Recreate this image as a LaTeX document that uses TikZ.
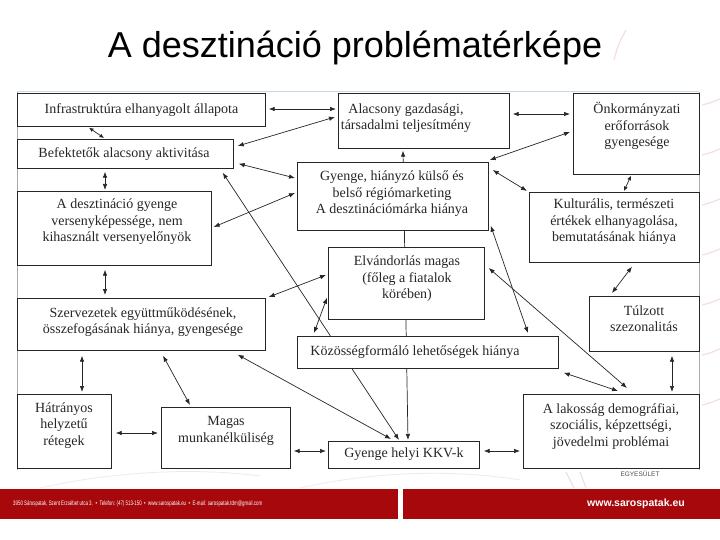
\documentclass[tikz,border=0pt]{standalone}
\usepackage{fontspec}
\setmainfont{Liberation Serif}
\newfontfamily\sansfont{Liberation Sans}
\usetikzlibrary{arrows.meta,backgrounds}
\definecolor{footred}{RGB}{166,8,12}
\definecolor{framegray}{RGB}{170,170,170}
\definecolor{frameblue}{RGB}{200,218,230}
\definecolor{swoosh}{RGB}{236,200,204}
\begin{document}
\begin{tikzpicture}[x=1pt,y=-1pt,
  box/.style={draw=black!85, line width=0.7pt, fill=white, rectangle, inner sep=0pt, anchor=north west},
  txt/.style={align=center, font=\fontsize{14}{16.5}\selectfont, text=black!85, inner sep=0pt},
  con/.style={line width=0.7pt, draw=black!85, {Latex[length=6pt,width=4.5pt]}-{Latex[length=6pt,width=4.5pt]}},
  shortcon/.style={line width=0.7pt, draw=black!85, {Latex[length=4.5pt,width=4pt]}-{Latex[length=4.5pt,width=4pt]}},
  swl/.style={draw=swoosh, line width=1.2pt, opacity=0.6},
]
\useasboundingbox (0,0) rectangle (720,540);
\begin{pgfonlayer}{background}
  \fill[white] (0,0) rectangle (720,540);
\end{pgfonlayer}

% faint background swooshes
\draw[swl] (614,60) .. controls (618,45) .. (626,30);
\foreach \yy in {105,155,205,255,305,355,405} {
  \draw[swl] (702,\yy) .. controls (710,\yy-2) .. (720,\yy-6);
}
\draw[swl] (566,472) -- (574,488);
\draw[swl] (580,472) -- (586,488);
\draw[draw=black!8, line width=0.8pt] (40,488) .. controls (120,470) and (200,468) .. (260,476);
\draw[draw=black!8, line width=0.8pt] (300,488) .. controls (380,470) and (460,470) .. (520,480);

% frame of the embedded diagram
\draw[frameblue, line width=0.8pt] (17,91.5) -- (699,91.5);
\draw[framegray, line width=0.5pt] (17,92) -- (17,470);
\draw[framegray, line width=0.5pt] (699,92) -- (699,470);

% title
\node[font=\sansfont\fontsize{36}{40}\selectfont, anchor=base, inner sep=0pt] (title) at (355,58) {A desztináció problématérképe};

% boxes
\node[box, minimum width=248pt, minimum height=33pt] (infra) at (17,93) {};
\node[box, minimum width=171pt, minimum height=55pt] (alac) at (338,93) {};
\node[box, minimum width=126pt, minimum height=81pt] (onk) at (573,93) {};
\node[box, minimum width=216pt, minimum height=29pt] (befek) at (17,139) {};
\node[box, minimum width=191pt, minimum height=68pt] (mark) at (297,162) {};
\node[box, minimum width=194pt, minimum height=74pt] (deszt) at (17,191) {};
\node[box, minimum width=170pt, minimum height=70pt] (kult) at (529,192) {};
\node[box, minimum width=156pt, minimum height=72pt] (elv) at (328,247) {};
\node[box, minimum width=110pt, minimum height=55pt] (tulz) at (589,296) {};
\node[box, minimum width=248pt, minimum height=52pt] (szerv) at (17,298) {};
\node[box, minimum width=261pt, minimum height=32pt] (kozos) at (297,336) {};
\node[box, minimum width=94pt, minimum height=74pt] (hatr) at (17,394) {};
\node[box, minimum width=129pt, minimum height=61pt] (magas) at (161,407) {};
\node[box, minimum width=151pt, minimum height=27pt] (kkv) at (328,441) {};
\node[box, minimum width=176pt, minimum height=74pt] (lakos) at (523,394) {};

% texts
\node[txt] (infraT) at (141.5,110) {Infrastruktúra elhanyagolt állapota};
\node[txt] (alacT) at (406,118) {Alacsony gazdasági,\\ társadalmi teljesítmény};
\node[txt] (onkT) at (637,126) {Önkormányzati\\ erőforrások\\ gyengesége};
\node[txt] (befekT) at (124,154) {Befektetők alacsony aktivitása};
\node[txt] (markT) at (392,194) {Gyenge, hiányzó külső és\\ belső régiómarketing\\ A desztinációmárka hiánya};
\node[txt] (desztT) at (117,222) {A desztináció gyenge\\ versenyképessége, nem\\ kihasznált versenyelőnyök};
\node[txt] (kultT) at (614,222) {Kulturális, természeti\\ értékek elhanyagolása,\\ bemutatásának hiánya};
\node[txt] (elvT) at (407,279) {Elvándorlás magas\\ (főleg a fiatalok\\ körében)};
\node[txt] (tulzT) at (644,318.5) {Túlzott\\ szezonalitás};
\node[txt] (szervT) at (143,322) {Szervezetek együttműködésének,\\ összefogásának hiánya, gyengesége};
\node[txt] (kozosT) at (415,352) {Közösségformáló lehetőségek hiánya};
\node[txt] (hatrT) at (64,425.5) {Hátrányos\\ helyzetű\\ rétegek};
\node[txt] (magasT) at (226,431) {Magas\\ munkanélküliség};
\node[txt] (kkvT) at (404,454) {Gyenge helyi KKV-k};
\node[txt] (lakosT) at (611,426.5) {A lakosság demográfiai,\\ szociális, képzettségi,\\ jövedelmi problémai};

% connectors (behind the boxes)
\begin{pgfonlayer}{background}
\draw[con] ([shift={(3,16)}]infra.north east) -- ([shift={(-2,16)}]alac.north west);
\draw[con] ([shift={(-3,24)}]alac.north west) -- ([shift={(4,7)}]befek.north east);
\draw[shortcon] ([shift={(72,1)}]infra.south west) -- ([shift={(87,-1)}]befek.north west);
\draw[con] ([shift={(88,3)}]befek.south west) -- ([shift={(88,-1)}]deszt.north west);
\draw[con] ([shift={(5,-5)}]befek.south east) -- ([shift={(-2,16)}]mark.north west);
\draw[con] ([shift={(2,36)}]deszt.north east) -- ([shift={(-2,31)}]mark.north west);
\draw[con] ([shift={(-11,4)}]befek.south east) -- ([shift={(71,-1)}]kkv.north west);
\draw[con] ([shift={(-28,4)}]szerv.south east) -- ([shift={(63,-2)}]kkv.north west);
\draw[con] ([shift={(65,2)}]alac.south west) -- ([shift={(80,-1)}]kkv.north west);
\draw[con] ([shift={(3,21)}]alac.north east) -- ([shift={(-3,21)}]onk.north west);
\draw[con] ([shift={(-3,39)}]onk.north west) -- ([shift={(1,-2)}]mark.north east);
\draw[shortcon] ([shift={(58,1)}]onk.south west) -- ([shift={(95,-1)}]kult.north west);
\draw[con] ([shift={(4,8)}]mark.north east) -- ([shift={(-2,-1)}]kult.north west);
\draw[con] ([shift={(2,-5)}]mark.south east) -- ([shift={(231,-3)}]kozos.north west);
\draw[con] ([shift={(3,-1)}]szerv.north east) -- ([shift={(-2,28)}]elv.north west);
\draw[con] ([shift={(-1,-22)}]elv.south west) -- ([shift={(17,-3)}]kozos.north west);
\draw[con] ([shift={(4,21)}]elv.north east) -- ([shift={(104,-6)}]lakos.north west);
\draw[con] ([shift={(5,4)}]kozos.south east) -- ([shift={(95,-3)}]lakos.north west);
\draw[con] ([shift={(103,4)}]kult.south west) -- ([shift={(23,-3)}]tulz.north west);
\draw[con] ([shift={(83,4)}]tulz.south west) -- ([shift={(149,-2)}]lakos.north west);
\draw[con] ([shift={(4,10)}]kkv.north east) -- ([shift={(-3,57)}]lakos.north west);
\draw[con] ([shift={(3,44)}]magas.north east) -- ([shift={(-2,10)}]kkv.north west);
\draw[con] ([shift={(4,39)}]hatr.north east) -- ([shift={(-3,26)}]magas.north west);
\draw[con] ([shift={(65,5)}]szerv.south west) -- ([shift={(65,-2)}]hatr.north west);
\draw[con] ([shift={(146,5)}]szerv.south west) -- ([shift={(29,-2)}]magas.north west);
\draw[con] ([shift={(88,4)}]deszt.south west) -- ([shift={(88,-3)}]szerv.north west);
\end{pgfonlayer}

% small logo fragment
\node[font=\sansfont\fontsize{6.5}{7}\selectfont, text=black!70, inner sep=0pt] (logo) at (640,474) {EGYESÜLET};

% footer
\fill[footred] (0,489) rectangle (398,519);
\fill[footred] (403,489) rectangle (720,519);
\node[anchor=west, text=white, inner sep=0pt] (addr) at (13,504)
  {\resizebox{249pt}{\height}{\sansfont\fontsize{6.5}{7}\selectfont 3950 Sárospatak, Szent Erzsébet utca 3. \ • \ Telefon: (47) 513-150 \ • \ www.sarospatak.eu \ • \ E-mail: sarospatak.tdm@gmail.com}};
\node[text=white, font=\sansfont\bfseries\fontsize{10.5}{12}\selectfont, inner sep=0pt] (web) at (636,504) {www.sarospatak.eu};
\end{tikzpicture}
\end{document}
